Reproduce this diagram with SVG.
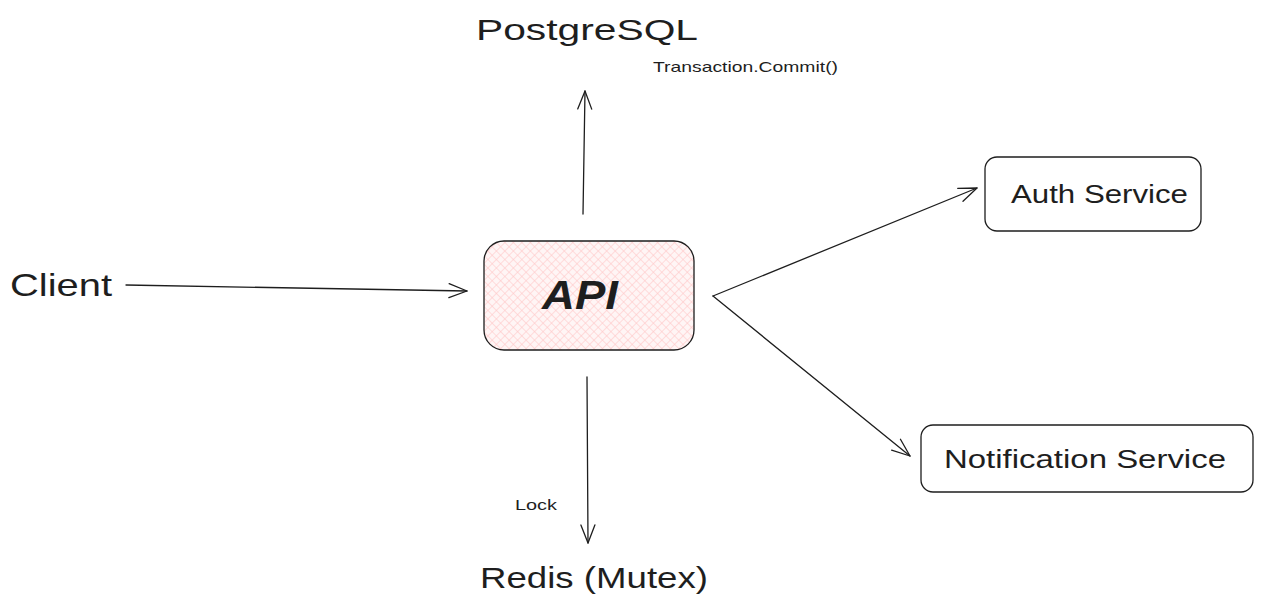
<svg xmlns="http://www.w3.org/2000/svg" width="1263" height="611" viewBox="0 0 1263 611">
<style>
.t{font-family:"Liberation Sans","DejaVu Sans",sans-serif;fill:#1e1e1e}
.box{fill:#ffffff;stroke:#1e1e1e;stroke-width:1.3}
.c{fill:none;stroke:#1e1e1e;stroke-width:1.3;stroke-linecap:round}
</style>
<defs>
<pattern id="hatch" patternUnits="userSpaceOnUse" width="6" height="6" patternTransform="rotate(45)">
<rect width="6" height="6" fill="#fff5f5"/>
<line x1="0" y1="0" x2="0" y2="6" stroke="#ffc9c9" stroke-width="1.2"/>
<line x1="0" y1="0" x2="6" y2="0" stroke="#ffc9c9" stroke-width="1.2"/>
</pattern>
<marker id="ah" viewBox="0 0 20 20" refX="19" refY="10" markerWidth="20" markerHeight="20" markerUnits="userSpaceOnUse" orient="auto">
<polyline points="1,3 19,10 1,17" fill="none" stroke="#1e1e1e" stroke-width="1.3" stroke-linecap="round" stroke-linejoin="round"/>
</marker>
</defs>
<g id="connectors">
<line class="c" x1="583" y1="214" x2="585" y2="91" marker-end="url(#ah)"/>
<line class="c" x1="126" y1="285" x2="467" y2="291" marker-end="url(#ah)"/>
<line class="c" x1="587" y1="377" x2="588" y2="543" marker-end="url(#ah)"/>
<line class="c" x1="713" y1="296" x2="977" y2="188" marker-end="url(#ah)"/>
<line class="c" x1="713" y1="296" x2="910" y2="456" marker-end="url(#ah)"/>
<text class="t" x="653" y="72" font-size="15" textLength="185" lengthAdjust="spacingAndGlyphs">Transaction.Commit()</text>
<text class="t" x="515" y="510" font-size="15" textLength="42" lengthAdjust="spacingAndGlyphs">Lock</text>
</g>
<g id="api">
<rect x="484" y="241" width="210" height="109" rx="20" fill="url(#hatch)" stroke="#1e1e1e" stroke-width="1.3"/>
<text class="t" x="580" y="309" font-size="40" text-anchor="middle" font-style="italic" font-weight="bold" textLength="76" lengthAdjust="spacingAndGlyphs">API</text>
</g>
<g id="postgresql">
<text class="t" x="476" y="40" font-size="30" textLength="222" lengthAdjust="spacingAndGlyphs">PostgreSQL</text>
</g>
<g id="client">
<text class="t" x="10" y="296" font-size="32" textLength="102" lengthAdjust="spacingAndGlyphs">Client</text>
</g>
<g id="redis">
<text class="t" x="480" y="588" font-size="30" textLength="228" lengthAdjust="spacingAndGlyphs">Redis (Mutex)</text>
</g>
<g id="auth">
<rect class="box" x="985" y="157" width="216" height="74" rx="12"/>
<text class="t" x="1011" y="203" font-size="25" textLength="177" lengthAdjust="spacingAndGlyphs">Auth Service</text>
</g>
<g id="notification">
<rect class="box" x="921" y="425" width="332" height="67" rx="12"/>
<text class="t" x="944" y="468" font-size="25" textLength="282" lengthAdjust="spacingAndGlyphs">Notification Service</text>
</g>
</svg>
